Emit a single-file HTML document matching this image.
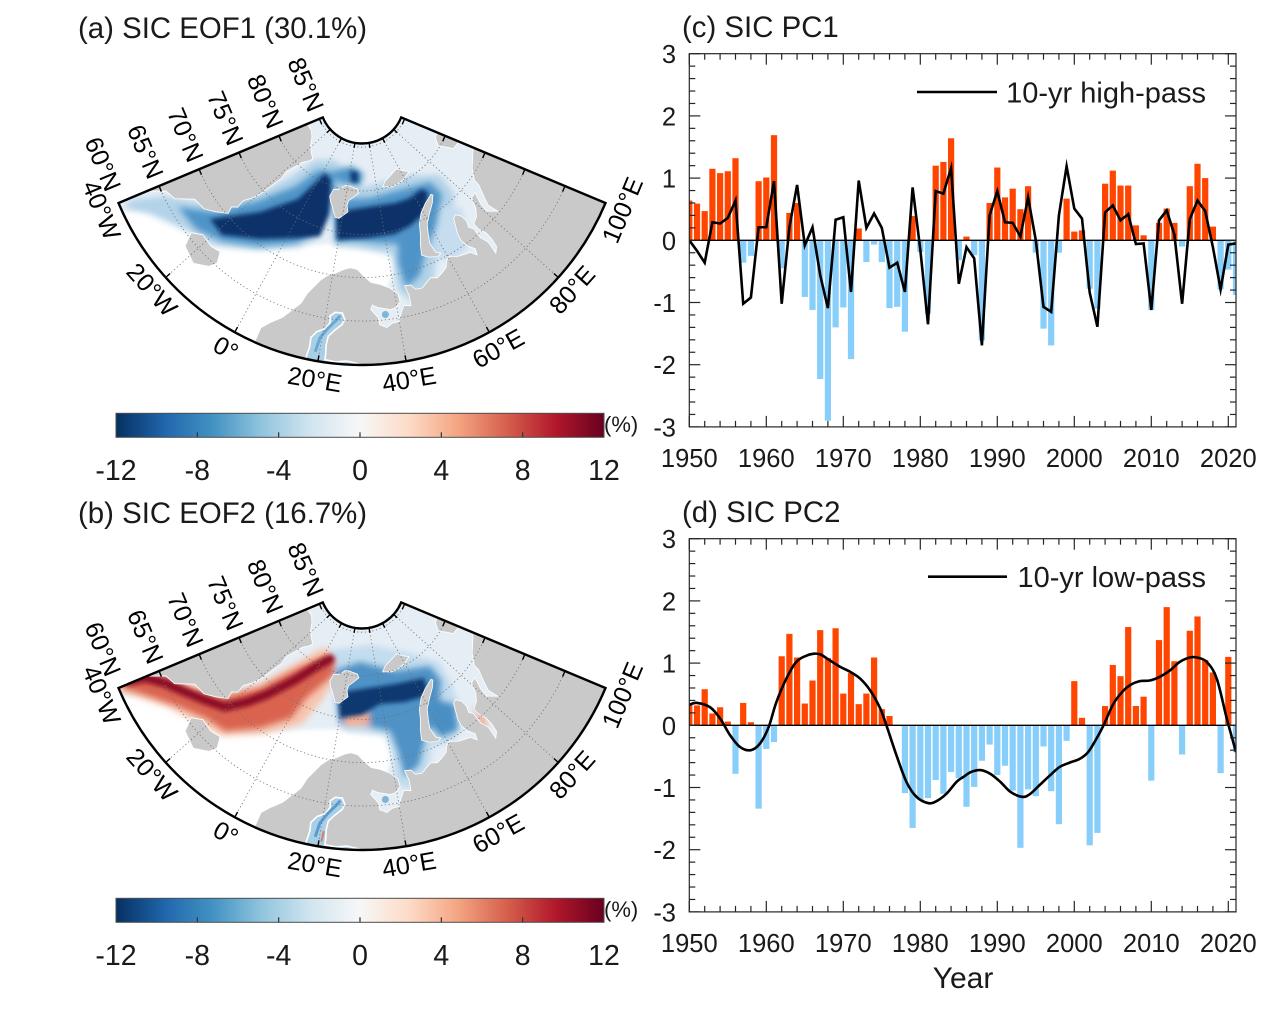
<!DOCTYPE html>
<html><head><meta charset="utf-8">
<style>
html,body{margin:0;padding:0;background:#fff;}
svg{display:block;font-family:"Liberation Sans",Arial,Helvetica,sans-serif;}
</style></head>
<body>
<svg id="s" width="1269" height="1009" viewBox="0 0 1269 1009" xmlns="http://www.w3.org/2000/svg">
<defs id="defs">
 <linearGradient id="cbg" x1="0" x2="1" y1="0" y2="0">
  <stop offset="0" stop-color="#053061"/>
  <stop offset="0.1" stop-color="#2166ac"/>
  <stop offset="0.2" stop-color="#4393c3"/>
  <stop offset="0.3" stop-color="#92c5de"/>
  <stop offset="0.4" stop-color="#d1e5f0"/>
  <stop offset="0.5" stop-color="#f7f7f7"/>
  <stop offset="0.6" stop-color="#fddbc7"/>
  <stop offset="0.7" stop-color="#f4a582"/>
  <stop offset="0.8" stop-color="#d6604d"/>
  <stop offset="0.9" stop-color="#b2182b"/>
  <stop offset="1" stop-color="#67001f"/>
 </linearGradient>
 <filter id="bl3" x="-20%" y="-20%" width="140%" height="140%"><feGaussianBlur stdDeviation="3.2"/></filter>
 <filter id="bl2" x="-20%" y="-20%" width="140%" height="140%"><feGaussianBlur stdDeviation="2.2"/></filter>
</defs>
<rect x="0" y="0" width="1269" height="1009" fill="#fff"/>
</svg>
<script>
(function(){
const NS="http://www.w3.org/2000/svg";
const svg=document.getElementById('s');
const defs=document.getElementById('defs');
function el(tag,attrs,parent,text){const e=document.createElementNS(NS,tag);for(const k in attrs)e.setAttribute(k,attrs[k]);if(text!==undefined)e.textContent=text;(parent||svg).appendChild(e);return e;}
const D=Math.PI/180;
const TXT='#1a1a1a';

/* ---------- geography ---------- */
const greenland=[[-44,59.8],[-42,60.5],[-41,62],[-40,63.5],[-38,65.5],[-35,66],[-32,68],[-28,68.3],[-25,69.2],[-22,70.2],[-23,71],[-21.5,71.5],[-22,72.5],[-20.5,73.5],[-19.5,74.5],[-19,75.5],[-18.5,76.7],[-18,77.5],[-19,78.5],[-17.5,79.5],[-16,80.5],[-13,81.2],[-12,81.6],[-16,82],[-21,82.5],[-26,83.2],[-32,83.6],[-40,83.5],[-50,82.5],[-60,82],[-70,80],[-73,78],[-66,76],[-58,75],[-55,70],[-53,66],[-50,62],[-45,60]];
const iceland=[[-24.5,65.5],[-22,66.4],[-18,66.2],[-15,66.5],[-13.5,65.3],[-14.5,64.4],[-18,63.4],[-21,63.8],[-22.7,64]];
const svalbard=[[10.5,78.8],[11.5,79.7],[14,79.8],[16,80.0],[18,80.4],[20,80.5],[23,80.4],[27,80.2],[28,79.8],[25,79.3],[22,78.8],[21.5,78.2],[22.5,77.5],[18.5,76.6],[16.5,76.6],[15,77.2],[13.5,77.8],[12,78.2]];
const fjl=[[44,80.2],[47,80.8],[52,81.2],[58,81.6],[62,81],[65,80.6],[60,80.2],[55,80],[50,79.9]];
const nz=[[52,71.3],[53,72.5],[54.5,73.5],[56,74.7],[59,75.8],[63,76.5],[68,77],[68.5,76.8],[66,76.1],[62,75.2],[59,74.3],[57.5,73.2],[56.5,72.2],[57,71],[58.5,70.6],[57,70.4],[54,70.8]];
const sevz=[[95,78.5],[99.5,78.3],[102,79],[105,79.3],[104,80],[100,81],[96,80.9],[92,80.2],[94,79.2]];
let mainland=[[4,58],[5,60],[5,61.8],[6.5,62.7],[9,63.8],[10.5,64.8],[12.5,66],[13.5,67.3],[15,68.3],[16.5,69.2],[18.5,69.9],[21,70.3],[24,70.9],[26,71.1],[28.5,70.9],[30.5,70.2],[33,69.4],[36,69.1],[39,68.5],[41,67.7],[41.2,66.8],[39.5,66.2],[38,66.1],[34.5,66.5],[33,66.8],[32.5,66.3],[34.5,65.3],[34.7,64.5],[36.5,64.1],[38,64.5],[40,64.6],[40.5,65.2],[42,66.3],[44,66.1],[44.2,67.3],[43.5,68.5],[45.5,68.4],[46.5,67.8],[48.5,67.7],[52,68.5],[54,68.2],[56,68.5],[58,68.9],[59,69.5],[60.5,69.8],[63,69.3],[65,69.1],[67,68.9],[68.3,68.2],[69,68.9],[67.5,69.7],[66.8,70.6],[67.2,71.5],[68.5,72.5],[69.5,73.2],[71,73.4],[72.5,72.8],[72.7,72],[71.8,71.3],[72.8,70.8],[72.6,69.5],[73.5,68.5],[73,67],[74.5,67.5],[75,68.5],[75,69.5],[74,70.4],[74,71.2],[76.5,71.6],[78.5,72.3],[80.5,73.5],[83,73.6],[81,72.2],[80.5,71.2],[83,70.2],[82.5,71.5],[84,72.5],[86.5,73.8],[87,74.5],[91,75.5],[96,76.1],[100,76.5],[104,77.7],[107,77.2],[113,76],[113,57]];
for(let lo=110;lo>=4;lo-=5)mainland.push([lo,57]);
mainland.push([4,57]);
const baltic=[[17.2,60.3],[17.5,61.5],[17.3,62.5],[18.5,63.3],[20.5,63.8],[21.5,64.6],[21.2,65.3],[22.5,65.8],[24.5,65.8],[25.3,65.1],[24.7,64.5],[23,63.8],[21.5,63],[21.3,62],[21.5,61],[21.5,60.3],[24,60.2],[26.5,60.4],[29.5,60.1],[29.5,58.5],[17,58.5]];

const W=[[100,212],[150,210],[190,222],[214,240],[255,248],[300,245],[335,244],[365,250],[392,250],[398,262],[385,292],[350,300],[300,305],[250,380],[100,380]];

function mapPanel(oy,kind){
 const cx=362, cy=101+oy, n=0.961, R=264, H=70*n;
 const t60=Math.tan(15*D);
 const rho=lat=>R*Math.pow(Math.tan((90-lat)/2*D)/t60,n);
 const P=(lon,lat)=>{const th=n*(lon-30)*D, r=rho(lat);return [cx+r*Math.sin(th), cy+r*Math.cos(th)];};
 const pt=(r,td)=>[cx+r*Math.sin(td*D), cy+r*Math.cos(td*D)];
 const rin=42.5;
 const f=p=>p[0].toFixed(2)+','+p[1].toFixed(2);
 const oL=pt(R,-H), oR=pt(R,H), iL=pt(rin,-H), iR=pt(rin,H);
 const sector=`M${f(oL)} A${R} ${R} 0 0 0 ${f(oR)} L${f(iR)} A${rin} ${rin} 0 0 1 ${f(iL)} Z`;
 const cid='mclip'+oy;
 const cp=el('clipPath',{id:cid},defs); el('path',{d:sector},cp);
 const gc=el('g',{'clip-path':`url(#${cid})`});
 const S=arr=>arr.map(p=>p[0]+','+(p[1]+oy)).join(' ');
 const G=arr=>arr.map(p=>f(P(p[0],p[1]))).join(' ');
 el('path',{d:sector,fill:'#e6eef5'},gc);
 el('polygon',{points:S(W),fill:'#ffffff'},el('g',{filter:'url(#bl2)'},gc));
 function layer(list,filter){const g=el('g',{filter:`url(#${filter})`},gc);list.forEach(o=>{el('polygon',{points:S(o[0]),fill:o[1]},g);});return g;}
 if(kind==='a'){
  layer([
   [[[130,200],[165,196],[200,203],[230,202],[262,192],[292,176],[315,160],[335,160],[348,172],[340,205],[318,238],[300,247],[258,250],[214,246],[185,230],[150,214],[125,208]],'#b3d3e8'],
   [[[330,190],[370,186],[405,176],[440,175],[455,195],[448,232],[436,262],[432,292],[412,302],[398,290],[392,255],[362,248],[335,246]],'#b3d3e8'],
   [[[432,205],[462,208],[468,248],[452,262],[436,255]],'#c6dcef']
  ],'bl3');
  layer([
   [[[178,207],[214,212],[258,201],[296,186],[318,170],[336,172],[334,196],[314,233],[296,243],[258,246],[222,241],[196,229]],'#4f94c8'],
   [[[336,200],[370,198],[400,190],[430,182],[442,194],[436,226],[426,250],[420,275],[406,288],[398,262],[398,244],[378,243],[350,240],[336,242]],'#4f94c8'],
   [[[332,172],[352,166],[364,174],[360,186],[340,183]],'#4f94c8']
  ],'bl3');
  layer([
   [[[210,219],[260,212],[298,199],[316,182],[325,173],[331,180],[329,214],[320,236],[300,238],[260,239],[222,235]],'#08306b'],
   [[[336,212],[368,207],[395,203],[410,198],[421,189],[428,192],[426,212],[410,226],[395,234],[368,238],[337,240]],'#08306b'],
   [[[350,171],[358,172],[358,183],[351,182]],'#0b3a75']
  ],'bl2');
 } else {
  layer([
   [[[118,194],[160,187],[190,199],[222,209],[260,199],[298,177],[322,163],[340,166],[341,185],[322,215],[302,239],[262,249],[222,251],[200,239],[170,223],[135,211],[118,206]],'#f7c4ad'],
   [[[330,165],[370,160],[410,168],[440,178],[452,200],[462,230],[455,255],[432,262],[428,292],[410,305],[395,300],[392,270],[385,250],[365,246],[345,246],[335,230]],'#c3dcee']
  ],'bl3');
  layer([
   [[[125,196],[160,190],[187,203],[221,213],[260,203],[298,183],[325,171],[335,177],[333,190],[306,213],[291,233],[260,243],[225,246],[206,233],[175,220],[137,207],[122,203]],'#d9634f'],
   [[[336,185],[360,177],[395,186],[430,181],[441,195],[439,228],[426,250],[419,280],[405,292],[398,266],[390,246],[366,241],[340,239]],'#4f92c6'],
   [[[431,214],[455,219],[458,245],[441,252],[432,242]],'#4a8fc4'],
   [[[344,226],[368,226],[370,240],[345,241]],'#f2ad92'],
   [[[474,222],[480,222],[488,244],[482,245]],'#eea08a']
  ],'bl3');
  const gd=el('g',{filter:'url(#bl2)'},gc);
  el('polyline',{points:S([[128,196],[146,193],[165,198],[183,206],[205,215],[225,222],[247,217],[268,209],[295,195],[314,183],[330,174]]),fill:'none',stroke:'#8c0b25','stroke-width':9,'stroke-linejoin':'round','stroke-linecap':'round'},gd);
  el('polygon',{points:S([[338,208],[362,204],[395,199],[424,193],[429,210],[405,217],[380,219],[362,230],[340,233]]),fill:'#0b3770'},gd);
 }
 // land
 const LAND='#c9c9c9';
 [greenland,iceland,svalbard,fjl,nz,sevz,mainland].forEach(a=>el('polygon',{points:G(a),fill:LAND,stroke:'#ffffff','stroke-width':0.8},gc));
 el('polygon',{points:G(baltic),fill:'#a9cfe6',stroke:'#ffffff','stroke-width':1.6},gc);
 el('polyline',{points:G([[19,61],[19.5,62.6],[21,63.8],[23,64.9],[24,65.5]]),fill:'none',stroke:kind==='a'?'#6aa8d4':'#5a9ccf','stroke-width':3},gc);
 if(kind==='b') el('polyline',{points:G([[20.6,60.6],[20.8,61.8]]),fill:'none',stroke:'#e07a60','stroke-width':2},gc);
 const ws=P(36.5,65.6); el('circle',{cx:ws[0],cy:ws[1],r:3.5,fill:'#7fb3d8'},gc);
 // grid
 const gs={fill:'none',stroke:'#6e6e6e','stroke-width':0.8,'stroke-dasharray':'1.2 2.6'};
 [65,70,75,80,85].forEach(lat=>{const r=rho(lat);const a=pt(r,-H),b=pt(r,H);el('path',Object.assign({d:`M${f(a)} A${r} ${r} 0 0 0 ${f(b)}`},gs),gc);});
 [-20,0,20,40,60,80].forEach(lon=>{const t=n*(lon-30);const a=pt(rin,t),b=pt(R,t);el('line',Object.assign({x1:a[0],y1:a[1],x2:b[0],y2:b[1]},gs),gc);});
 // outline
 el('path',{d:sector,fill:'none',stroke:'#000','stroke-width':2.4,'stroke-linejoin':'miter'});
 // ticks
 const tk={stroke:'#000','stroke-width':1.4};
 const sH=Math.sin(H*D), cH=Math.cos(H*D);
 [65,70,75,80,85].forEach(lat=>{const r=rho(lat);
   let a=pt(r,-H); el('line',Object.assign({x1:a[0],y1:a[1],x2:a[0]+6*cH,y2:a[1]+6*sH},tk));
   a=pt(r,H); el('line',Object.assign({x1:a[0],y1:a[1],x2:a[0]-6*cH,y2:a[1]+6*sH},tk));});
 [-20,0,20,40,60,80].forEach(lon=>{const t=n*(lon-30);
   let a=pt(R,t),b=pt(R-6,t); el('line',Object.assign({x1:a[0],y1:a[1],x2:b[0],y2:b[1]},tk));
   a=pt(rin,t);b=pt(rin+5,t); el('line',Object.assign({x1:a[0],y1:a[1],x2:b[0],y2:b[1]},tk));});
 // lat labels
 [60,65,70,75,80,85].forEach(lat=>{const r=rho(lat);const e=pt(r,-H);const g=lat===60?14:9;
   const ax=e[0]-g*cH, ay=e[1]-g*sH;
   el('text',{x:ax,y:ay,'text-anchor':'end','dominant-baseline':'central','font-size':25,fill:'#000',transform:`rotate(${H.toFixed(2)} ${ax.toFixed(2)} ${ay.toFixed(2)})`},null,lat+'°N');});
 // lon labels
 [[-40,'40°W'],[-20,'20°W'],[0,'0°'],[20,'20°E'],[40,'40°E'],[60,'60°E'],[80,'80°E'],[100,'100°E']].forEach(o=>{
   const t=n*(o[0]-30); const c=pt(R+19,t);
   el('text',{x:c[0],y:c[1],'text-anchor':'middle','dominant-baseline':'central','font-size':25,fill:'#000',transform:`rotate(${(-t).toFixed(2)} ${c[0].toFixed(2)} ${c[1].toFixed(2)})`},null,o[1]);});
 // colorbar
 const cbx=116, cbw=488, cby=413.3+oy, cbh=24;
 el('rect',{x:cbx,y:cby,width:cbw,height:cbh,fill:'url(#cbg)',stroke:'#4d4d4d','stroke-width':1});
 [-8,-4,0,4,8].forEach(v=>{const x=cbx+(v+12)/24*cbw; el('line',{x1:x,x2:x,y1:cby+cbh,y2:cby+cbh-5,stroke:'#333','stroke-width':1.2});});
 [-12,-8,-4,0,4,8,12].forEach(v=>{const x=cbx+(v+12)/24*cbw; el('text',{x:x,y:480+oy,'text-anchor':'middle','font-size':28.5,fill:TXT},null,String(v));});
 el('text',{x:604,y:432+oy,'font-size':22,fill:TXT},null,'(%)');
}

/* ---------- charts ---------- */
function crPath(pts){let d=`M${pts[0][0].toFixed(2)},${pts[0][1].toFixed(2)}`;for(let i=0;i<pts.length-1;i++){const p0=pts[i-1]||pts[i],p1=pts[i],p2=pts[i+1],p3=pts[i+2]||p2;const c1=[p1[0]+(p2[0]-p0[0])/6,p1[1]+(p2[1]-p0[1])/6],c2=[p2[0]-(p3[0]-p1[0])/6,p2[1]-(p3[1]-p1[1])/6];d+=` C${c1[0].toFixed(2)},${c1[1].toFixed(2)} ${c2[0].toFixed(2)},${c2[1].toFixed(2)} ${p2[0].toFixed(2)},${p2[1].toFixed(2)}`;}return d;}

function chart(oy,bars,linePts,smooth,legend,legLine){
 const L=689.3,Rx=1236,T=53.7+oy,B=426.9+oy,Z=240.3+oy,U=62.2;
 const X=y=>L+(y-1950)*7.7, Y=v=>Z-v*U;
 const cid='cclip'+oy; const cp=el('clipPath',{id:cid},defs); el('rect',{x:L,y:T,width:Rx-L,height:B-T},cp);
 const g=el('g',{'clip-path':`url(#${cid})`});
 bars.forEach((v,i)=>{if(v===0)return;const x=X(1950+i)-3.1;el('rect',{x:x.toFixed(2),y:(v>0?Y(v):Z).toFixed(2),width:6.2,height:(Math.abs(v)*U).toFixed(2),fill:v>0?'#ff4500':'#87cefa'},g);});
 el('line',{x1:L,x2:Rx,y1:Z,y2:Z,stroke:'#000','stroke-width':1.4},g);
 const pts=linePts.map(p=>[X(p[0]),Y(p[1])]);
 const d=smooth?crPath(pts):'M'+pts.map(p=>p[0].toFixed(2)+','+p[1].toFixed(2)).join(' L');
 el('path',{d:d,fill:'none',stroke:'#000','stroke-width':2.6,'stroke-linejoin':'miter','stroke-miterlimit':6},g);
 // box
 el('rect',{x:L,y:T,width:Rx-L,height:B-T,fill:'none',stroke:'#262626','stroke-width':1.2});
 const ts={stroke:'#262626','stroke-width':1.2};
 for(let yr=1950;yr<=2020;yr+=2){const len=yr%10===0?11:6;const x=X(yr);
   el('line',Object.assign({x1:x,x2:x,y1:B,y2:B-len},ts));el('line',Object.assign({x1:x,x2:x,y1:T,y2:T+len},ts));}
 for(let k=-15;k<=15;k++){const len=k%5===0?11:6;const y=Y(k/5);
   el('line',Object.assign({x1:L,x2:L+len,y1:y,y2:y},ts));el('line',Object.assign({x1:Rx,x2:Rx-len,y1:y,y2:y},ts));}
 for(let v=-3;v<=3;v++){el('text',{x:676,y:(Y(v)+9.5).toFixed(2),'text-anchor':'end','font-size':25.5,fill:TXT},null,String(v));}
 for(let yr=1950;yr<=2020;yr+=10){el('text',{x:X(yr).toFixed(2),y:B+40,'text-anchor':'middle','font-size':25.5,fill:TXT},null,String(yr));}
 // legend
 el('line',{x1:legLine[0],x2:legLine[1],y1:legLine[2]+oy,y2:legLine[2]+oy,stroke:'#000','stroke-width':2.6});
 el('text',{x:1206,y:legLine[2]+oy+10.5,'text-anchor':'end','font-size':29,fill:TXT},null,legend);
}

const pc1=[0.64,0.59,0.47,1.15,1.08,1.11,1.32,-0.36,-0.25,0.95,
 1.01,1.69,-0.45,0.44,0.6,-0.91,-1.12,-2.23,-2.9,-1.40,
 -1.08,-1.91,0.19,-0.35,-0.07,-0.35,-1.09,-1.07,-1.47,0.39,
 -0.19,-1.18,1.2,1.26,1.64,-0.32,0.06,-0.24,-1.61,0.6,
 1.17,0.69,0.83,0.5,0.87,-0.2,-1.42,-1.69,-0.2,0.67,
 0.14,0.16,-0.78,-1.1,0.91,1.12,0.88,0.88,0.24,0.08,
 -1.12,0.28,0.51,0.28,-0.1,0.87,1.23,1.0,0.22,-0.79,
 -0.47,-0.88];
const hp=[0,-0.17,-0.36,0.29,0.27,0.36,0.64,-1.02,-0.92,0.21,
 0.21,0.95,-1.02,0.21,0.89,-0.08,0.21,-0.56,-1.09,0.33,
 0.37,-0.83,0.96,0.2,0.43,0.2,-0.44,-0.36,-0.83,0.85,
 -0.15,-1.35,0.79,0.75,1.16,-0.7,-0.11,-0.29,-1.69,0.4,
 0.79,0.29,0.28,0.06,0.69,0,-1.07,-1.15,0.4,1.19,
 0.51,0.35,-0.84,-1.39,0.45,0.56,0.32,0.42,-0.06,-0.05,
 -1.12,0.32,0.48,0.09,-1.02,0.34,0.64,0.47,-0.11,-0.79,-0.07,-0.05];
const pc2=[0.32,0.32,0.58,0.19,0.29,0.06,-0.78,0.36,0.05,-1.34,
 -0.38,-0.27,1.11,1.47,1.09,0.35,0.72,1.53,1.08,1.56,
 0.51,0.84,0.34,0.51,1.09,0.26,0.15,0,-1.09,-1.65,
 -1.2,-1.17,-0.88,-1.1,-0.75,-0.85,-1.31,-0.99,-0.57,-0.31,
 -0.8,-0.65,-1.05,-1.97,-1.03,-1.14,-0.34,-1.06,-1.59,-0.25,
 0.71,0.12,-1.93,-1.73,0.31,0.97,0.79,1.58,0.31,0.46,
 -0.89,1.37,1.9,1.03,-0.47,1.52,1.75,1.05,0.85,-0.77,
 1.1,-0.43];
const lp=[[1950,0.33],[1951,0.36],[1952.7,0.29],[1954,0.11],[1955.3,-0.16],[1956.6,-0.35],[1958,-0.40],[1959.2,-0.29],[1960.3,-0.03],[1961.3,0.37],[1962.6,0.75],[1963.9,1.02],[1965.2,1.12],[1966.1,1.15],[1967,1.14],[1968.3,1.04],[1969.6,0.94],[1970.9,0.86],[1972.2,0.75],[1973.5,0.56],[1974.8,0.27],[1975.6,0],[1976.9,-0.48],[1978.2,-0.91],[1979.5,-1.15],[1981,-1.25],[1982.1,-1.22],[1983.4,-1.10],[1984.7,-0.91],[1985.6,-0.83],[1986.6,-0.75],[1987.8,-0.72],[1989.1,-0.78],[1990.4,-0.91],[1991.7,-1.07],[1993.2,-1.15],[1994.2,-1.11],[1995.5,-0.96],[1996.8,-0.81],[1998.1,-0.67],[1999.4,-0.6],[2000.7,-0.54],[2001.8,-0.43],[2002.9,-0.21],[2003.8,0],[2005.1,0.35],[2006.4,0.56],[2007.3,0.65],[2008.5,0.71],[2009.8,0.72],[2011.1,0.78],[2012.4,0.88],[2013.7,1.02],[2015,1.09],[2015.9,1.09],[2017.2,1.02],[2018.5,0.75],[2019.8,0.11],[2021,-0.43]];

mapPanel(0,'a');
mapPanel(485,'b');
chart(0,pc1,hp.map((v,i)=>[1950+i,v]),false,'10-yr high-pass',[917,997,92]);
chart(485,pc2,lp,true,'10-yr low-pass',[928,1007,91.7]);

// titles
el('text',{x:78,y:38,'font-size':29.4,fill:TXT},null,'(a) SIC EOF1 (30.1%)');
el('text',{x:78,y:523,'font-size':29.4,fill:TXT},null,'(b) SIC EOF2 (16.7%)');
el('text',{x:682,y:37,'font-size':29.4,fill:TXT},null,'(c) SIC PC1');
el('text',{x:682,y:522,'font-size':29.4,fill:TXT},null,'(d) SIC PC2');
el('text',{x:963,y:988,'text-anchor':'middle','font-size':30,fill:TXT},null,'Year');
})();
</script>
</body></html>
